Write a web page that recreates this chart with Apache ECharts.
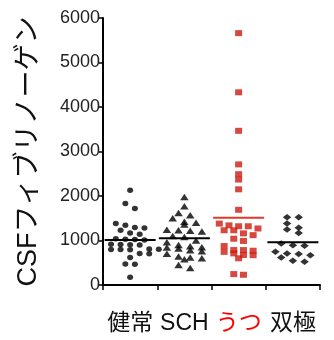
<!DOCTYPE html>
<html>
<head>
<meta charset="utf-8">
<script src="https://cdn.jsdelivr.net/npm/echarts@6/dist/echarts.min.js"></script>
<style>
  html, body { margin: 0; padding: 0; background: #fff; }
  #chart { width: 334px; height: 340px; }
</style>
</head>
<body>
<div id="chart"></div>
<script>
// Groups along the x axis
const categories = ['健常', 'SCH', 'うつ', '双極'];

// CSF fibrinogen per subject, one list per group
const healthy = [2130, 1830, 1720, 1380, 1340, 1290, 1280, 1230, 1170, 1140,
  1040, 1030, 1020, 1010, 920, 915, 910, 905, 900, 810, 805, 800, 795, 790,
  710, 700, 620, 470, 465, 175];
const schizophrenia = [1980, 1770, 1620, 1570, 1500, 1420, 1400, 1360, 1240, 1230,
  1220, 1200, 1100, 1080, 1000, 960, 900, 870, 850, 840, 820, 780, 760, 700,
  640, 620, 600, 580, 450, 380];
const depression = [5660, 4330, 3465, 2710, 2490, 2370, 2150, 1690, 1380, 1340,
  1320, 1320, 1270, 1230, 1230, 1160, 1120, 1040, 990, 875, 785, 785, 770, 745,
  710, 675, 670, 600, 245, 230];
const bipolar = [1525, 1520, 1380, 1285, 1250, 1170, 935, 895, 880, 745, 710,
  695, 670, 620, 545, 520];

// Value axis range and tick step
const yMin = 0;
const yMax = 6000;
const yStep = 1000;

function mean(list) {
  return list.reduce((s, v) => s + v, 0) / list.length;
}

// Dot-plot layout: values close to each other share a row and sit side by side
function swarm(values, center, step, rowSpan) {
  const sorted = values.slice().sort((a, b) => b - a);
  const points = [];
  let i = 0;
  while (i < sorted.length) {
    let j = i;
    while (j < sorted.length && sorted[i] - sorted[j] <= rowSpan) j++;
    const n = j - i;
    for (let k = 0; k < n; k++) {
      points.push([center + (k - (n - 1) / 2) * step, sorted[i + k]]);
    }
    i = j;
  }
  return points;
}

const groups = [
  { values: healthy, symbol: 'circle', size: [6, 5.5], color: '#000', lineColor: '#000', step: 0.176 },
  { values: schizophrenia, symbol: 'triangle', size: [8.5, 6.5], color: '#000', lineColor: '#000', step: 0.215 },
  { values: depression, symbol: 'rect', size: [7, 6], color: '#cc1a10', lineColor: '#e0382a', step: 0.178 },
  { values: bipolar, symbol: 'diamond', size: [8.5, 6.5], color: '#000', lineColor: '#000', step: 0.215 }
];

const series = [];
groups.forEach((g, idx) => {
  series.push({
    type: 'scatter',
    xAxisIndex: 1,
    symbol: g.symbol,
    symbolSize: g.size,
    itemStyle: { color: g.color },
    data: swarm(g.values, idx, g.step, 115),
    silent: true
  });
  const m = mean(g.values);
  series.push({
    type: 'line',
    xAxisIndex: 1,
    symbol: 'none',
    lineStyle: { color: g.lineColor, width: 2 },
    data: [[idx - 0.47, m], [idx + 0.47, m]],
    silent: true,
    z: 3
  });
});

const chart = echarts.init(document.getElementById('chart'), null, { renderer: 'canvas' });
chart.setOption({
  animation: false,
  backgroundColor: '#fff',
  grid: { left: 103, right: 14, top: 18, bottom: 55, containLabel: false },
  xAxis: [
    {
      type: 'category',
      data: categories,
      boundaryGap: true,
      axisLine: { lineStyle: { color: '#000', width: 2 } },
      axisTick: { show: true, length: 5, interval: 0, lineStyle: { color: '#000', width: 1.5 } },
      axisLabel: {
        interval: 0,
        margin: 27,
        fontSize: 23,
        fontFamily: 'Liberation Sans, Noto Sans CJK JP',
        color: (value) => (value === 'うつ' ? '#ff0000' : '#111')
      },
      splitLine: { show: false }
    },
    {
      type: 'value',
      min: -0.5,
      max: 3.5,
      show: false,
      splitLine: { show: false }
    }
  ],
  yAxis: {
    type: 'value',
    min: yMin,
    max: yMax,
    interval: yStep,
    name: 'CSFフィブリノーゲン',
    nameLocation: 'middle',
    nameGap: 61,
    nameTextStyle: { fontSize: 27, fontFamily: 'Liberation Sans, Noto Sans CJK JP', color: '#111' },
    axisLine: { show: true, onZero: false, lineStyle: { color: '#000', width: 2 } },
    axisTick: { show: true, length: 4, lineStyle: { color: '#000', width: 1.5 } },
    axisLabel: {
      margin: 3,
      fontSize: 18,
      fontFamily: 'Liberation Sans',
      color: '#222',
      formatter: (v) => String(v)
    },
    splitLine: { show: false }
  },
  series: series
});
</script>
</body>
</html>
